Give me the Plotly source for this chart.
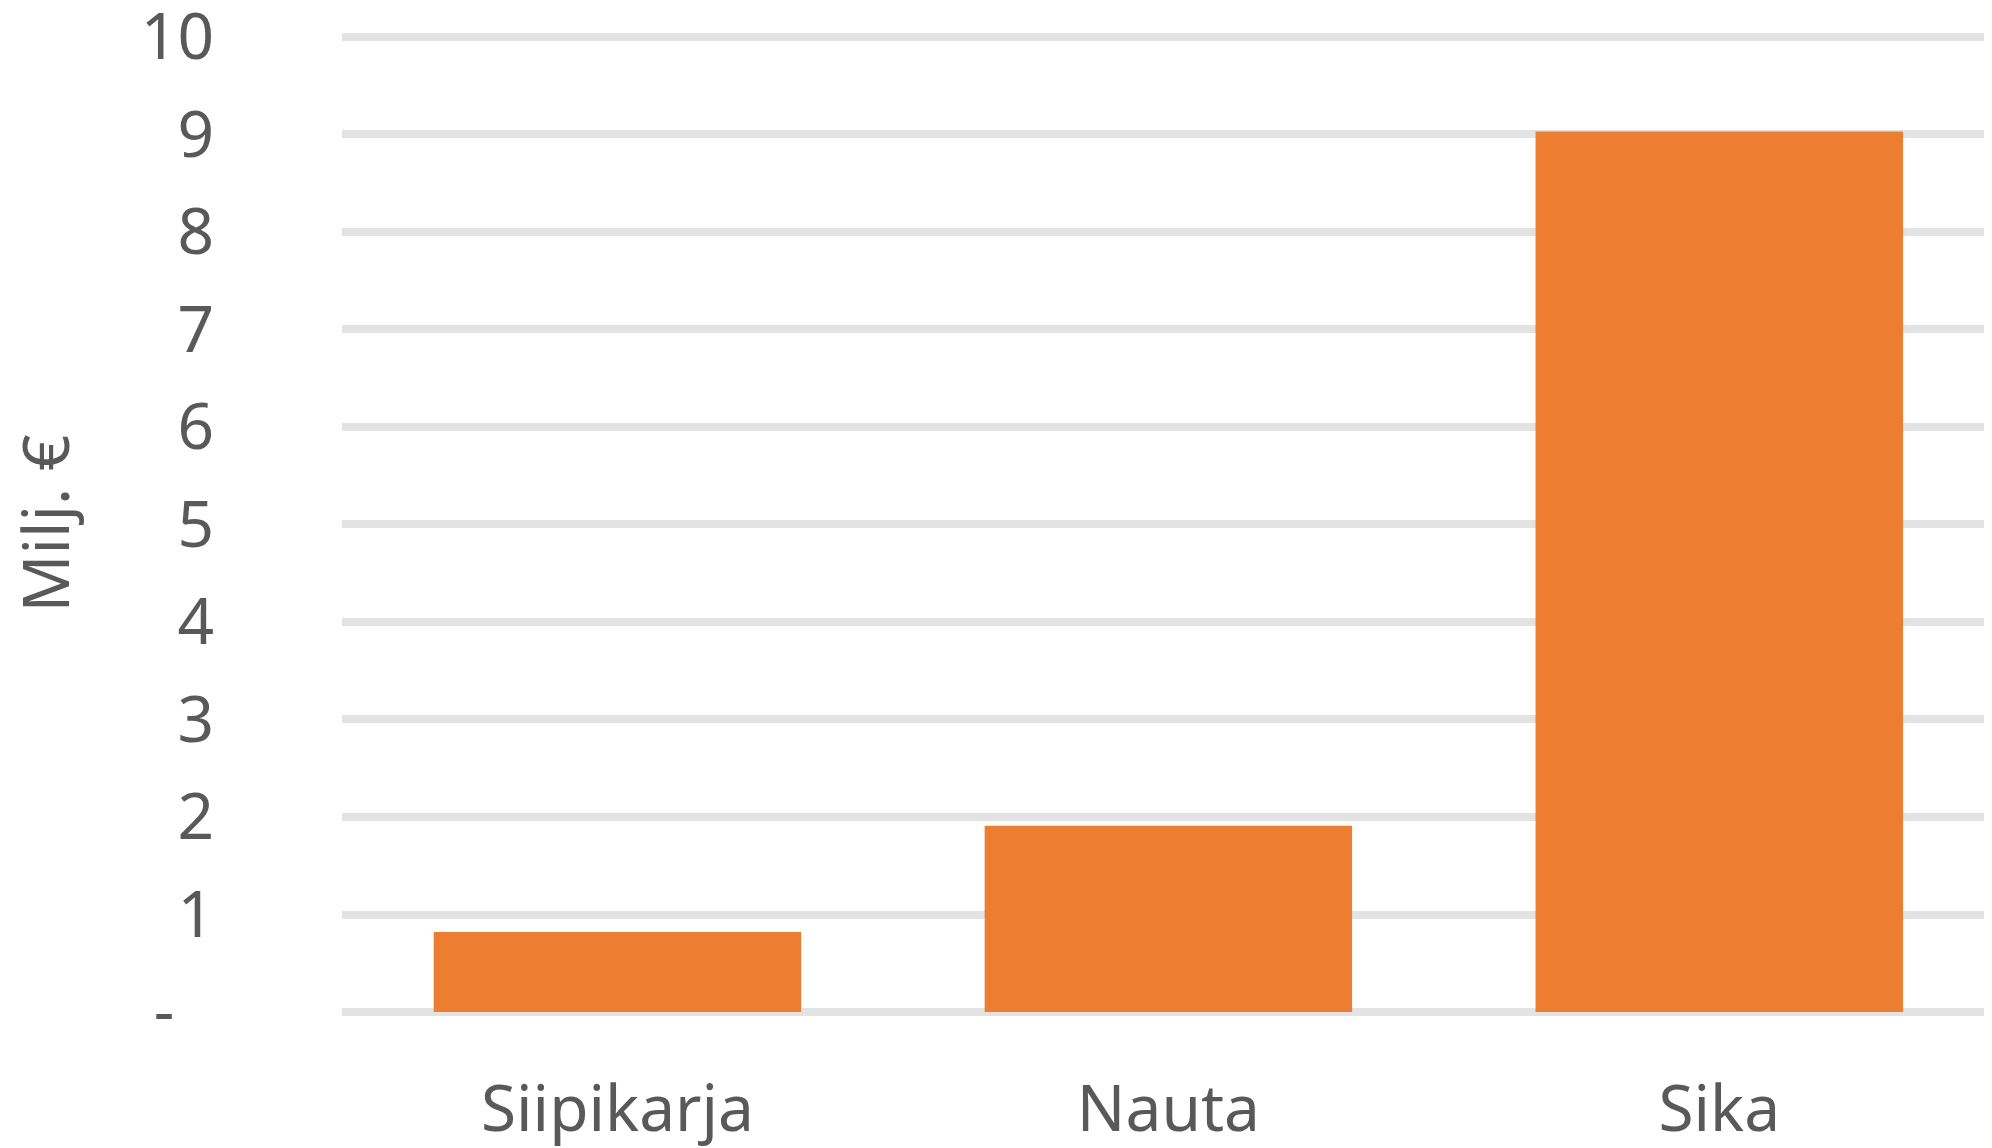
import plotly.graph_objects as go

categories = ["Siipikarja", "Nauta", "Sika"]
values = [0.82, 1.91, 9.03]
y_tickvals = [0, 1, 2, 3, 4, 5, 6, 7, 8, 9, 10]
y_ticktext = ["-\u00a0\u00a0\u200a", "1", "2", "3", "4", "5", "6", "7", "8", "9", "10"]
y_title = "Milj. €"

FONT = "Noto Sans"
TXT = "#595959"

# page body has an 8px default margin; figure sized to fit the 1992x1148 window
W, H = 1984, 1140
L, T, B = 334, 27, 136

fig = go.Figure(
    go.Bar(
        x=categories,
        y=values,
        marker=dict(color="#ED7D31", line=dict(width=0)),
    )
)

fig.update_layout(
    width=W,
    height=H,
    margin=dict(l=L, r=0, t=T, b=B, autoexpand=False),
    paper_bgcolor="white",
    plot_bgcolor="white",
    bargap=0.333,
    showlegend=False,
    font=dict(family=FONT, size=64, color=TXT),
    xaxis=dict(
        range=[-0.5, 2.495],
        showgrid=False,
        zeroline=False,
        showline=False,
        ticks="",
        ticklabelstandoff=54,
        tickfont=dict(family=FONT, size=64, color=TXT),
    ),
    yaxis=dict(
        range=[0, 10.02],
        tickvals=y_tickvals,
        ticktext=y_ticktext,
        showgrid=True,
        gridcolor="#E3E3E3",
        gridwidth=8,
        zeroline=True,
        zerolinecolor="#E3E3E3",
        zerolinewidth=8,
        showline=False,
        ticks="",
        ticklabelstandoff=127,
        ticklabeloverflow="allow",
        tickfont=dict(family=FONT, size=64, color=TXT),
    ),
    annotations=[
        dict(
            text=y_title,
            xref="paper",
            yref="paper",
            x=(36 - L) / (W - L),
            y=0.5,
            xanchor="center",
            yanchor="middle",
            textangle=-90,
            showarrow=False,
            font=dict(family=FONT, size=64, color=TXT),
        )
    ],
)

fig.write_html("out.html")
